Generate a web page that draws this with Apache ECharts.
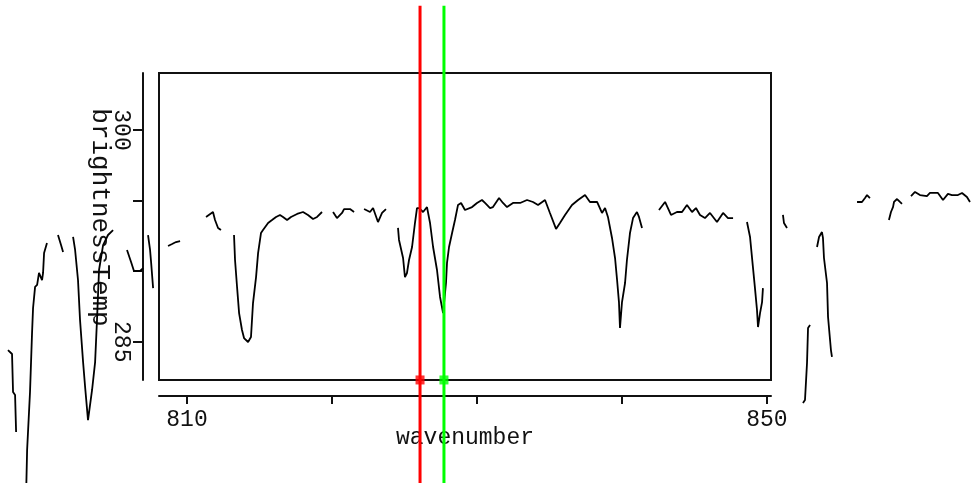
<!DOCTYPE html>
<html>
<head>
<meta charset="utf-8">
<script src="https://cdn.jsdelivr.net/npm/echarts@6/dist/echarts.min.js"></script>
<style>
html,body{margin:0;padding:0;background:#fff;}
#chart{width:971px;height:483px;}
</style>
</head>
<body>
<div id="chart"></div>
<script>
// ---- data (null marks a gap in the trace) ----
const wavenumber = [
797.65,797.93,798.00,798.14,798.21,null,
798.90,798.97,799.17,799.31,799.38,799.52,799.66,799.79,800.00,800.07,800.14,800.34,null,
801.10,801.31,801.45,null,
802.14,802.28,802.48,802.62,802.83,802.97,803.17,803.24,803.45,803.66,803.79,803.93,804.21,804.55,804.90,null,
805.86,806.14,806.34,806.76,806.97,null,
807.31,807.45,807.52,807.66,null,
808.69,808.97,809.24,809.52,null,
811.31,811.79,811.93,812.14,812.34,null,
813.24,813.31,813.45,813.59,813.79,813.93,814.21,814.41,814.55,814.76,814.90,815.10,815.24,815.59,815.86,816.14,816.41,816.62,816.90,817.17,817.59,818.00,818.34,818.69,818.97,819.31,null,
820.07,820.34,820.69,820.83,821.24,821.52,null,
822.21,822.62,822.83,823.17,823.45,823.72,null,
824.55,824.62,824.90,825.03,825.17,825.31,825.52,825.72,825.86,826.00,826.28,826.55,826.76,826.97,827.24,827.45,827.66,827.86,827.93,828.07,828.28,828.48,828.69,828.90,829.17,829.66,830.00,830.34,830.55,830.90,831.10,831.52,831.79,832.07,832.48,832.97,833.45,833.86,834.21,834.69,835.03,835.45,835.72,836.07,836.55,836.97,837.45,837.79,838.28,838.62,838.83,839.03,839.31,839.52,839.66,839.79,839.86,840.00,840.21,840.34,840.55,840.76,841.03,841.17,841.38,null,
842.55,842.97,843.38,843.79,844.14,844.48,844.83,845.10,845.38,845.72,846.07,846.55,846.97,847.31,847.66,null,
848.62,848.83,849.03,849.17,849.31,849.38,849.52,849.66,849.72,null,
851.10,851.17,851.38,null,
852.48,852.62,852.76,852.83,852.97,null,
853.45,853.59,853.79,853.86,853.93,854.14,854.21,854.41,854.48,null,
856.21,856.55,856.76,856.90,857.10,null,
858.41,858.55,858.69,858.76,858.97,859.17,859.31,null,
859.93,860.21,860.55,861.03,861.24,861.79,862.14,862.48,862.76,863.17,863.45,863.79,864.00
];
const brightnessTemp = [
284.41,284.13,281.43,281.22,278.60,null,
274.14,277.33,281.44,285.62,287.39,288.88,289.02,289.87,289.37,289.87,291.29,291.99,null,
292.56,291.85,291.36,null,
292.42,291.50,289.37,286.54,283.56,281.79,279.45,279.45,281.58,283.56,286.54,290.08,291.85,292.56,292.91,null,
291.50,290.65,290.01,290.01,290.22,null,
292.56,291.50,290.65,288.80,null,
291.78,291.92,292.06,292.13,null,
293.84,294.19,293.62,293.06,292.91,null,
292.56,290.79,288.88,287.03,285.83,285.26,284.98,285.33,287.74,289.58,291.28,292.70,292.91,293.41,293.62,293.84,293.98,293.84,293.62,293.84,294.05,294.19,293.98,293.69,293.84,294.19,null,
294.19,293.76,294.12,294.40,294.40,294.19,null,
294.40,294.19,294.47,293.48,294.12,294.40,null,
293.06,292.21,290.93,289.58,289.87,290.79,291.71,293.41,294.47,294.47,294.19,294.54,293.41,291.71,290.08,288.17,287.03,289.16,290.58,291.71,292.70,293.62,294.69,294.83,294.33,294.54,294.83,295.04,294.83,294.47,294.54,295.18,294.83,294.54,294.83,294.83,295.04,294.90,294.69,295.04,294.12,292.99,293.41,293.98,294.69,295.04,295.39,294.90,294.90,294.12,294.47,293.84,292.35,290.93,289.37,287.81,285.97,287.81,289.16,290.79,292.70,293.76,294.19,293.84,293.06,null,
294.33,294.90,293.98,294.19,294.19,294.69,294.19,294.47,293.98,293.76,294.12,293.48,294.12,293.76,293.76,null,
293.48,292.42,290.29,288.80,287.25,286.04,287.03,287.81,288.80,null,
293.98,293.41,293.06,null,
280.66,280.87,283.49,285.97,286.18,null,
291.71,292.42,292.77,292.35,290.93,289.16,286.75,284.41,283.92,null,
294.90,294.90,295.18,295.39,295.18,null,
293.62,294.19,294.54,294.90,295.11,294.90,294.76,null,
295.32,295.61,295.39,295.32,295.54,295.54,295.04,295.47,295.39,295.39,295.54,295.25,294.90
];
// cursor lines (red, green) in wavenumber
const cursorWavenumbers = [826.07, 827.72];
const cursorColors = ['#ff0000', '#00ff00'];
// framed plot-box extents and ticks
const xMin = 808.07, xMax = 850.28;
const yMin = 282.29, yMax = 304.04;
const xTicks = [810, 820, 830, 840, 850];
const xTickLabels = [810, 850];
const yTicks = [285, 290, 295, 300];
const yTickLabels = [285, 300];
// the trace is not clipped to the box: it runs over the whole window
const fullXMin = 797.10, fullXMax = 864.07;
const fullYMin = 274.99, fullYMax = 309.21;
const cursorSpan = [270, 308.8];

const FONT = 'Liberation Mono';
const traceData = wavenumber.map((w, i) => (w === null || brightnessTemp[i] === null) ? ['-', '-'] : [w, brightnessTemp[i]]);

const series = [{
  type: 'line',
  xAxisIndex: 1, yAxisIndex: 1,
  data: traceData,
  showSymbol: false,
  connectNulls: false,
  lineStyle: {color: '#000', width: 1.8},
  silent: true,
  z: 2
}];
cursorWavenumbers.forEach((w, i) => {
  series.push({
    type: 'line',
    xAxisIndex: 1, yAxisIndex: 1,
    data: [[w, cursorSpan[0]], [w, cursorSpan[1]]],
    showSymbol: false,
    lineStyle: {color: cursorColors[i], width: 3},
    z: 3
  });
  series.push({
    type: 'scatter',
    xAxisIndex: 1, yAxisIndex: 1,
    data: [[w, yMin]],
    symbol: 'rect',
    symbolSize: 9,
    itemStyle: {color: cursorColors[i]},
    z: 4
  });
});

const chart = echarts.init(document.getElementById('chart'), null, {renderer: 'canvas'});
chart.setOption({
  animation: false,
  backgroundColor: '#fff',
  grid: [
    {left: 159, top: 73, width: 612, height: 307, show: true, borderColor: '#111', borderWidth: 2, backgroundColor: 'transparent'},
    {left: 0, top: 0, width: 971, height: 483, show: false}
  ],
  xAxis: [{
    gridIndex: 0,
    type: 'value', min: xMin, max: xMax, offset: 16,
    axisLine: {show: true, onZero: false, lineStyle: {color: '#111', width: 2}},
    axisTick: {show: true, customValues: xTicks, length: 8, lineStyle: {color: '#111', width: 2}},
    axisLabel: {show: true, customValues: xTickLabels, margin: 12, fontFamily: FONT, fontSize: 23, color: '#111'},
    splitLine: {show: false},
    name: 'wavenumber', nameLocation: 'middle', nameGap: 30, nameMoveOverlap: false,
    nameTextStyle: {fontFamily: FONT, fontSize: 23, color: '#111'}
  }, {
    gridIndex: 1, type: 'value', min: fullXMin, max: fullXMax, show: false
  }],
  yAxis: [{
    gridIndex: 0,
    type: 'value', min: yMin, max: yMax, offset: 16,
    axisLine: {show: true, onZero: false, lineStyle: {color: '#111', width: 2}},
    axisTick: {show: true, customValues: yTicks, length: 10, lineStyle: {color: '#111', width: 2}},
    axisLabel: {show: true, customValues: yTickLabels, rotate: -90, margin: 10, fontFamily: FONT, fontSize: 23, color: '#111'},
    splitLine: {show: false},
    name: 'brightnessTemp', nameLocation: 'middle', nameRotate: -90, nameGap: 30, nameMoveOverlap: false,
    nameTextStyle: {fontFamily: FONT, fontSize: 26, color: '#111', padding: [0, 18, 0, 0]}
  }, {
    gridIndex: 1, type: 'value', min: fullYMin, max: fullYMax, show: false
  }],
  series: series
});
</script>
</body>
</html>
